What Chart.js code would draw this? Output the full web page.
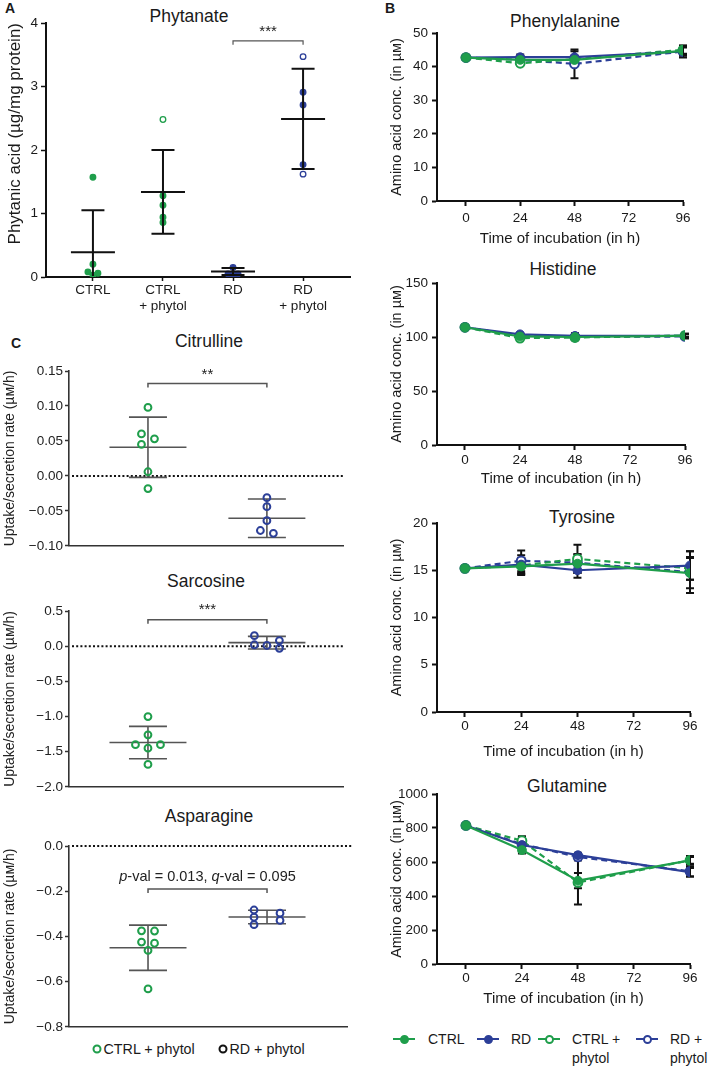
<!DOCTYPE html>
<html><head><meta charset="utf-8">
<script src="https://cdn.jsdelivr.net/npm/chart.js@4.4.1/dist/chart.umd.min.js"></script>
<style>
html,body{margin:0;padding:0;background:#fff;}
body{width:709px;height:1066px;position:relative;overflow:hidden;font-family:'Liberation Sans',Arial,Helvetica,sans-serif;color:#1a1a1a;}
.box{position:absolute;}
.box canvas{display:block;}
.ttl{position:absolute;transform:translate(-50%,-50%);font-size:17.5px;white-space:nowrap;line-height:1;}
.pl{position:absolute;font-weight:bold;font-size:14px;line-height:1;transform:translate(-50%,-50%);}
.lgi{position:absolute;}
.lgt{position:absolute;font-size:14px;line-height:19px;width:54px;}
.lgm{position:absolute;height:2.5px;width:22px;}
.lgc{position:absolute;width:5px;height:5px;border-radius:50%;border:2px solid;}
.cl{position:absolute;font-size:14.3px;line-height:1;white-space:nowrap;transform:translateY(-50%);}
.cc{position:absolute;width:5px;height:5px;border-radius:50%;border:2px solid;transform:translate(-50%,-50%);}
</style></head>
<body>
<div class="pl" style="left:10px;top:8px">A</div>
<div class="pl" style="left:390px;top:8px">B</div>
<div class="pl" style="left:16px;top:343px">C</div>

<div class="ttl" style="left:189px;top:17px">Phytanate</div>
<div class="ttl" style="left:565px;top:22px">Phenylalanine</div>
<div class="ttl" style="left:563px;top:270px">Histidine</div>
<div class="ttl" style="left:582px;top:518px">Tyrosine</div>
<div class="ttl" style="left:567px;top:787px">Glutamine</div>
<div class="ttl" style="left:209px;top:342px">Citrulline</div>
<div class="ttl" style="left:206px;top:582px">Sarcosine</div>
<div class="ttl" style="left:209px;top:817px">Asparagine</div>

<script>
// ---------------- DATA ----------------
// Panel A: phytanic acid (µg/mg protein)
const phyCats = [['CTRL'], ['CTRL', '+ phytol'], ['RD'], ['RD', '+ phytol']];
const phyTicks = [0, 1, 2, 3, 4];
const phyCtrl  = [1.57, 0.20, 0.08, 0.06, 0.03];
const phyCtrlP = [2.48, 1.28, 1.13, 0.94, 0.86];
const phyRd    = [0.15, 0.05, 0.05, 0.03];
const phyRdP   = [3.47, 2.91, 2.71, 1.77, 1.62];
const phyMean  = [0.39, 1.34, 0.085, 2.49];
const phySd    = [0.66, 0.66, 0.055, 0.79];
const phySig   = {from: 2, to: 3, y: 3.72, label: '***'};

// Panel B: amino acid concentrations over time
const hours = [0, 24, 48, 96];
const hourTicks = [0, 24, 48, 72, 96];
const seriesNames = ['CTRL', 'RD', 'CTRL + phytol', 'RD + phytol'];

const pheTicks = [0, 10, 20, 30, 40, 50];
const pheCtrl  = [42.7, 42.0, 42.0, 44.7];
const pheRd    = [42.7, 42.8, 42.8, 44.5];
const pheCtrlP = [42.7, 41.0, 42.2, 45.0];
const pheRdP   = [42.7, 42.0, 40.8, 44.5];
const pheCtrlSd  = [0, 1.0, 1.2, 1.0];
const pheRdSd    = [0, 0.8, 1.8, 1.8];
const pheCtrlPSd = [0, 0.6, 0.8, 1.2];
const pheRdPSd   = [0, 1.0, 4.3, 1.3];

const hisTicks = [0, 50, 100, 150];
const hisCtrl  = [109, 100.5, 100, 101];
const hisRd    = [109, 102.5, 101, 101];
const hisCtrlP = [109, 99, 99.5, 101.5];
const hisRdP   = [109, 101, 100, 100.5];
const hisCtrlSd  = [1, 1, 2, 1.5];
const hisRdSd    = [1, 1, 2.5, 2];
const hisCtrlPSd = [1, 1, 2, 1.5];
const hisRdPSd   = [1, 1, 3, 2];

const tyrTicks = [0, 5, 10, 15, 20];
const tyrCtrl  = [15.2, 15.4, 15.7, 14.7];
const tyrRd    = [15.2, 15.6, 15.0, 15.5];
const tyrCtrlP = [15.2, 15.5, 16.2, 15.2];
const tyrRdP   = [15.2, 16.0, 15.8, 14.8];
const tyrCtrlSd  = [0, 0.9, 1.0, 1.6];
const tyrRdSd    = [0, 1.0, 0.8, 1.5];
const tyrCtrlPSd = [0, 0.8, 1.5, 1.2];
const tyrRdPSd   = [0, 1.1, 0.9, 2.2];

const gluTicks = [0, 200, 400, 600, 800, 1000];
const gluCtrl  = [815, 670, 490, 610];
const gluRd    = [815, 700, 640, 540];
const gluCtrlP = [815, 725, 480, 610];
const gluRdP   = [815, 705, 630, 545];
const gluCtrlSd  = [15, 20, 45, 25];
const gluRdSd    = [15, 15, 15, 25];
const gluCtrlPSd = [15, 25, 130, 20];
const gluRdPSd   = [15, 45, 20, 30];

// Panel C: uptake / secretion rates (µM/h)
const citTicks  = [-0.10, -0.05, 0.00, 0.05, 0.10, 0.15];
const citLabels = ['\u22120.10', '\u22120.05', '0.00', '0.05', '0.10', '0.15'];
const citCtrlP  = [0.098, 0.060, 0.053, 0.045, 0.006, -0.018];
const citRdP    = [-0.031, -0.044, -0.064, -0.078, -0.082];
const citMean   = [0.041, -0.0605];
const citSd     = [0.043, 0.0275];
const citSig    = {from: 1, to: 2, y: 0.132, label: '**'};

const sarTicks  = [-2.0, -1.5, -1.0, -0.5, 0.0, 0.5];
const sarLabels = ['\u22122.0', '\u22121.5', '\u22121.0', '\u22120.5', '0.0', '0.5'];
const sarCtrlP  = [-1.00, -1.26, -1.40, -1.40, -1.45, -1.68];
const sarRdP    = [0.15, 0.08, 0.02, 0.01, -0.03];
const sarMean   = [-1.37, 0.05];
const sarSd     = [0.23, 0.09];
const sarSig    = {from: 1, to: 2, y: 0.376, label: '***'};

const aspTicks  = [-0.8, -0.6, -0.4, -0.2, 0.0];
const aspLabels = ['\u22120.8', '\u22120.6', '\u22120.4', '\u22120.2', '0.0'];
const aspCtrlP  = [-0.375, -0.376, -0.425, -0.430, -0.462, -0.632];
const aspRdP    = [-0.283, -0.297, -0.315, -0.329, -0.348];
const aspMean   = [-0.45, -0.314];
const aspSd     = [0.10, 0.030];
const aspSig    = {from: 1, to: 2, y: -0.19, rich: [['p', true], ['-val = 0.013, ', false], ['q', true], ['-val = 0.095', false]]};

const cLegend = ['CTRL + phytol', 'RD + phytol'];

// ---------------- STYLE / HELPERS ----------------
const FONT = "'Liberation Sans', Arial, Helvetica, sans-serif";
const NARROW = "'Liberation Sans Narrow', 'Liberation Sans', Arial, sans-serif";
const GREEN = '#1f9e4b';
const BLUE = '#2c3f98';
Chart.defaults.font.family = FONT;
Chart.defaults.color = '#1a1a1a';

function makeBox(l, t, w, h) {
  const d = document.createElement('div');
  d.className = 'box';
  Object.assign(d.style, {left: l + 'px', top: t + 'px', width: w + 'px', height: h + 'px'});
  const c = document.createElement('canvas');
  c.width = w; c.height = h;
  c.style.width = w + 'px'; c.style.height = h + 'px';
  d.appendChild(c);
  document.body.appendChild(d);
  return c;
}

function decoPlugin(o) {
  return {
    id: 'deco',
    afterDatasetsUpdate(chart) {
      chart.data.datasets.forEach((ds, di) => {
        if (!ds.swarm) return;
        const {step, gap} = ds.swarm;
        const els = chart.getDatasetMeta(di).data.slice().sort((a, b) => a.y - b.y);
        const chains = [];
        let cur = [];
        els.forEach((el, i) => {
          if (i > 0 && el.y - els[i - 1].y >= gap) { chains.push(cur); cur = []; }
          cur.push(el);
        });
        if (cur.length) chains.push(cur);
        const placed = [];
        chains.forEach(ch => {
          const cands = ch.length === 1 ? [0] : [-1, 1, 0, -2, 2, -3, 3];
          ch.forEach(el => {
            const cx = el.x;
            for (const k of cands) {
              const nx = cx + k * step;
              if (placed.every(p => Math.hypot(p.x - nx, p.y - el.y) >= gap - 0.05)) { el.x = nx; break; }
            }
            placed.push({x: el.x, y: el.y});
          });
        });
      });
    },
    beforeDatasetsDraw(chart) {
      const {ctx, chartArea: ca} = chart;
      const ys = chart.scales.y, xs = chart.scales.x;
      if (o.zero) {
        const y = ys.getPixelForValue(0);
        ctx.save();
        ctx.strokeStyle = o.zero.color; ctx.lineWidth = o.zero.width; ctx.setLineDash(o.zero.dash);
        ctx.beginPath(); ctx.moveTo(ca.left + 3, y); ctx.lineTo(ca.right + (o.zero.extra || 0), y); ctx.stroke();
        ctx.restore();
      }
      if (o.err) {
        ctx.save();
        ctx.strokeStyle = o.err.color; ctx.lineWidth = o.err.width;
        chart.data.datasets.forEach(ds => {
          if (!ds.sd) return;
          ds.data.forEach((d, i) => {
            const s = ds.sd[i];
            if (!s) return;
            const x = xs.getPixelForValue(d.x);
            const y1 = ys.getPixelForValue(d.y - s), y2 = ys.getPixelForValue(d.y + s);
            ctx.beginPath();
            ctx.moveTo(x, y1); ctx.lineTo(x, y2);
            ctx.moveTo(x - o.err.cap, y1); ctx.lineTo(x + o.err.cap, y1);
            ctx.moveTo(x - o.err.cap, y2); ctx.lineTo(x + o.err.cap, y2);
            ctx.stroke();
          });
        });
        ctx.restore();
      }
      if (o.summary && !o.summary.onTop) drawSummary(chart, o.summary);
    },
    afterDatasetsDraw(chart) {
      if (o.summary && o.summary.onTop) drawSummary(chart, o.summary);
      if (o.sig) drawSig(chart, o.sig);
    }
  };
}

function drawSummary(chart, s) {
  const {ctx, chartArea: ca} = chart;
  const xs = chart.scales.x, ys = chart.scales.y;
  ctx.save();
  ctx.beginPath(); ctx.rect(ca.left - 60, ca.top - 2, ca.right - ca.left + 120, ca.bottom - ca.top + 1); ctx.clip();
  ctx.strokeStyle = s.color; ctx.lineWidth = s.width;
  s.x.forEach((gx, i) => {
    const x = xs.getPixelForValue(gx);
    const ym = ys.getPixelForValue(s.mean[i]);
    const yt = ys.getPixelForValue(s.mean[i] + s.sd[i]);
    const yb = ys.getPixelForValue(s.mean[i] - s.sd[i]);
    ctx.beginPath();
    ctx.moveTo(x - s.meanHalf, ym); ctx.lineTo(x + s.meanHalf, ym);
    ctx.moveTo(x, yt); ctx.lineTo(x, yb);
    ctx.moveTo(x - s.capHalf, yt); ctx.lineTo(x + s.capHalf, yt);
    ctx.moveTo(x - s.capHalf, yb); ctx.lineTo(x + s.capHalf, yb);
    ctx.stroke();
  });
  ctx.restore();
}

function drawSig(chart, g) {
  const ctx = chart.ctx;
  const xs = chart.scales.x, ys = chart.scales.y;
  const x1 = xs.getPixelForValue(g.from), x2 = xs.getPixelForValue(g.to), y = ys.getPixelForValue(g.y);
  ctx.save();
  ctx.strokeStyle = g.color; ctx.lineWidth = g.width;
  ctx.beginPath();
  ctx.moveTo(x1, y + g.tick); ctx.lineTo(x1, y); ctx.lineTo(x2, y); ctx.lineTo(x2, y + g.tick);
  ctx.stroke();
  ctx.fillStyle = g.textColor; ctx.textBaseline = 'middle';
  const cx = (x1 + x2) / 2, ty = y - g.gap;
  if (g.rich) {
    const fonts = g.rich.map(r => (r[1] ? 'italic ' : '') + g.size + 'px ' + FONT);
    let total = 0;
    const ws = g.rich.map((r, i) => { ctx.font = fonts[i]; const w = ctx.measureText(r[0]).width; total += w; return w; });
    let x = cx - total / 2;
    ctx.textAlign = 'left';
    g.rich.forEach((r, i) => { ctx.font = fonts[i]; ctx.fillText(r[0], x, ty); x += ws[i]; });
  } else {
    ctx.font = g.size + 'px ' + FONT; ctx.textAlign = 'center';
    ctx.fillText(g.label, cx, ty);
  }
  ctx.restore();
}

const base = {animation: false, responsive: false, devicePixelRatio: 1, events: []};
const noPlug = {legend: {display: false}, tooltip: {enabled: false}, title: {display: false}};

// ---------------- PANEL A ----------------
(function () {
  const c = makeBox(0, 0, 360, 320);
  const ptStyle = (vals, gx, color, openIdx) => ({
    data: vals.map(v => ({x: gx, y: v})),
    pointRadius: 2.8, pointBorderWidth: 1.3,
    pointBorderColor: color,
    pointBackgroundColor: vals.map((v, i) => openIdx.includes(i) ? '#ffffff' : color),
    swarm: {step: 5, gap: 5}
  });
  new Chart(c, {
    type: 'scatter',
    data: {datasets: [
      ptStyle(phyCtrl, 0, GREEN, []),
      ptStyle(phyCtrlP, 1, GREEN, [0]),
      ptStyle(phyRd, 2, BLUE, []),
      ptStyle(phyRdP, 3, BLUE, [0, 4])
    ]},
    options: Object.assign({}, base, {
      layout: {padding: {top: 23, left: 0, right: 10, bottom: 0}, autoPadding: false},
      plugins: noPlug,
      scales: {
        x: {
          type: 'linear', min: -0.67, max: 3.67,
          afterBuildTicks: s => { s.ticks = phyCats.map((_, i) => ({value: i})); },
          afterFit: s => { s.height = 43; },
          ticks: {callback: (v, i) => phyCats[i], font: {size: 13.5}, color: '#1a1a1a', padding: 1, maxRotation: 0, autoSkip: false},
          grid: {display: true, drawOnChartArea: false, drawTicks: true, tickLength: 4, tickWidth: 1.5, tickColor: '#111'},
          border: {display: true, color: '#111', width: 2}
        },
        y: {
          min: 0, max: 4,
          afterBuildTicks: s => { s.ticks = phyTicks.map(v => ({value: v})); },
          afterFit: s => { s.width = 46; },
          ticks: {callback: v => String(v), font: {size: 13.5}, color: '#1a1a1a', padding: 3},
          grid: {display: true, drawOnChartArea: false, drawTicks: true, tickLength: 5, tickWidth: 1.5, tickColor: '#111'},
          border: {display: true, color: '#111', width: 2},
          title: {display: true, text: 'Phytanic acid (\u00b5g/mg protein)', align: 'end', font: {size: 17}, color: '#1a1a1a', padding: {top: 4.8, bottom: 0}}
        }
      }
    }),
    plugins: [decoPlugin({
      summary: {x: [0, 1, 2, 3], mean: phyMean, sd: phySd, meanHalf: 22, capHalf: 11.5, color: '#111', width: 2, onTop: true},
      sig: Object.assign({}, phySig, {color: '#555', width: 1.2, tick: 4, size: 15, gap: 9, textColor: '#1a1a1a'})
    })]
  });
})();

// ---------------- PANEL B ----------------
function bChart(cfg) {
  const c = makeBox(360, cfg.top, 349, cfg.h);
  const mkDs = (arr, sd, color, dashed, open) => ({
    data: hours.map((h, i) => ({x: h, y: arr[i]})), sd: sd,
    borderColor: color, backgroundColor: color, borderWidth: 2.2,
    borderDash: dashed ? [6, 4] : [],
    pointRadius: 4.4, pointBorderWidth: open ? 2 : 1,
    pointBackgroundColor: open ? '#ffffff' : color, pointBorderColor: color,
    tension: 0, fill: false
  });
  return new Chart(c, {
    type: 'line',
    data: {datasets: [
      mkDs(cfg.ctrl, cfg.ctrlSd, GREEN, false, false),
      mkDs(cfg.rd, cfg.rdSd, BLUE, false, false),
      mkDs(cfg.ctrlP, cfg.ctrlPSd, GREEN, true, true),
      mkDs(cfg.rdP, cfg.rdPSd, BLUE, true, true)
    ]},
    options: Object.assign({}, base, {
      layout: {padding: {top: cfg.padTop, left: 0, right: 709 - cfg.R, bottom: 0}, autoPadding: false},
      plugins: noPlug,
      scales: {
        x: {
          type: 'linear', min: cfg.xmin, max: 96,
          afterBuildTicks: s => { s.ticks = hourTicks.map(v => ({value: v})); },
          afterFit: s => { s.height = cfg.xh; },
          ticks: {callback: v => String(v), font: {size: 13.5}, color: '#1a1a1a', padding: cfg.tickPad, maxRotation: 0, autoSkip: false},
          grid: {display: true, drawOnChartArea: false, drawTicks: true, tickLength: 5, tickWidth: 2, tickColor: '#111'},
          border: {display: true, color: '#111', width: 2},
          title: {display: true, text: 'Time of incubation (in h)', font: {size: 15}, color: '#1a1a1a', padding: {top: 0, bottom: cfg.titlePb}}
        },
        y: {
          min: 0, max: cfg.ticks[cfg.ticks.length - 1],
          afterBuildTicks: s => { s.ticks = cfg.ticks.map(v => ({value: v})); },
          afterFit: s => { s.width = 77; },
          ticks: {callback: v => String(v), font: {size: 13.5}, color: '#1a1a1a', padding: 4},
          grid: {display: true, drawOnChartArea: false, drawTicks: true, tickLength: 5, tickWidth: 2, tickColor: '#111'},
          border: {display: true, color: '#111', width: 2},
          title: {display: true, text: 'Amino acid conc. (in \u00b5\u043c)', font: {size: 14.5}, color: '#1a1a1a', padding: {top: 28.3, bottom: 0}}
        }
      }
    }),
    plugins: [decoPlugin({err: {color: '#111', width: 2, cap: 4}})]
  });
}

bChart({top: 0, h: 255, padTop: 33, xh: 54, R: 683, xmin: -12.8, tickPad: 3.9, titlePb: 7, ticks: pheTicks,
  ctrl: pheCtrl, rd: pheRd, ctrlP: pheCtrlP, rdP: pheRdP, ctrlSd: pheCtrlSd, rdSd: pheRdSd, ctrlPSd: pheCtrlPSd, rdPSd: pheRdPSd});
bChart({top: 255, h: 245, padTop: 28, xh: 55, R: 685, xmin: -12.2, tickPad: 1.9, titlePb: 12, ticks: hisTicks,
  ctrl: hisCtrl, rd: hisRd, ctrlP: hisCtrlP, rdP: hisRdP, ctrlSd: hisCtrlSd, rdSd: hisRdSd, ctrlPSd: hisCtrlPSd, rdPSd: hisRdPSd});
bChart({top: 500, h: 270, padTop: 23, xh: 58, R: 690, xmin: -11.9, tickPad: 1, titlePb: 9, ticks: tyrTicks,
  ctrl: tyrCtrl, rd: tyrRd, ctrlP: tyrCtrlP, rdP: tyrRdP, ctrlSd: tyrCtrlSd, rdSd: tyrRdSd, ctrlPSd: tyrCtrlPSd, rdPSd: tyrRdPSd});
bChart({top: 770, h: 250, padTop: 24, xh: 56, R: 690, xmin: -12.4, tickPad: 0.9, titlePb: 12, ticks: gluTicks,
  ctrl: gluCtrl, rd: gluRd, ctrlP: gluCtrlP, rdP: gluRdP, ctrlSd: gluCtrlSd, rdSd: gluRdSd, ctrlPSd: gluCtrlPSd, rdPSd: gluRdPSd});

// B legend
(function () {
  const pos = [{m: 393, t: 428}, {m: 477, t: 511}, {m: 538, t: 572}, {m: 636, t: 670}];
  const cols = [GREEN, BLUE, GREEN, BLUE];
  const open = [false, false, true, true];
  seriesNames.forEach((name, i) => {
    const ln = document.createElement('div');
    ln.className = 'lgm';
    Object.assign(ln.style, {left: pos[i].m + 'px', top: (1039 - 1.25) + 'px', background: cols[i]});
    document.body.appendChild(ln);
    const dot = document.createElement('div');
    dot.className = 'lgc';
    Object.assign(dot.style, {left: (pos[i].m + 11 - 4.5) + 'px', top: (1039 - 4.5) + 'px', borderColor: cols[i], background: open[i] ? '#fff' : cols[i]});
    document.body.appendChild(dot);
    const t = document.createElement('div');
    t.className = 'lgt';
    t.textContent = name;
    Object.assign(t.style, {left: pos[i].t + 'px', top: (1039 - 9.5) + 'px'});
    document.body.appendChild(t);
  });
})();

// ---------------- PANEL C ----------------
function cChart(cfg) {
  const c = makeBox(0, cfg.top, 360, cfg.h);
  const ds = (vals, gx, color, step) => ({
    data: vals.map(v => ({x: gx, y: v})),
    pointRadius: 3.4, pointBorderWidth: 2, pointBorderColor: color,
    pointBackgroundColor: 'rgba(255,255,255,0)', swarm: {step: step, gap: 6.5}
  });
  new Chart(c, {
    type: 'scatter',
    data: {datasets: [ds(cfg.ctrlP, 1, GREEN, cfg.stepC), ds(cfg.rdP, 2, BLUE, cfg.stepR)]},
    options: Object.assign({}, base, {
      layout: {padding: {top: cfg.padTop, left: 0, right: 360 - cfg.R, bottom: 0}, autoPadding: false},
      plugins: noPlug,
      scales: {
        x: {
          type: 'linear', min: 0.336, max: cfg.xmax,
          afterFit: s => { s.height = 5; },
          ticks: {display: false},
          grid: {display: true, drawOnChartArea: false, drawTicks: false},
          border: {display: true, color: '#333', width: 1.6}
        },
        y: {
          min: cfg.ticks[0], max: cfg.ticks[cfg.ticks.length - 1],
          afterBuildTicks: s => { s.ticks = cfg.ticks.map(v => ({value: v})); },
          afterFit: s => { s.width = 69; },
          ticks: {callback: (v, i) => cfg.labels[i], font: {family: NARROW, size: 13.5}, color: '#222', padding: 2},
          grid: {display: true, drawOnChartArea: false, drawTicks: true, tickLength: 4, tickWidth: 1.5, tickColor: '#333'},
          border: {display: true, color: '#333', width: 1.6},
          title: {display: true, text: 'Uptake/secretion rate (\u00b5\u043c/h)', font: {size: 14}, color: '#222', padding: {top: 2, bottom: 0}}
        }
      }
    }),
    plugins: [decoPlugin({
      zero: {color: '#111', width: 2, dash: [2, 2.2], extra: cfg.zeroExtra || 0},
      summary: {x: [1, 2], mean: cfg.mean, sd: cfg.sd, meanHalf: 38.5, capHalf: 19, color: '#555', width: 1.6, onTop: false},
      sig: Object.assign({}, cfg.sig, {color: '#555', width: 1.5, tick: 4, size: cfg.sigSize, gap: cfg.sigGap, textColor: '#222'})
    })]
  });
}

cChart({top: 350, h: 206, padTop: 21, R: 343, xmax: 2.64, ticks: citTicks, labels: citLabels,
  ctrlP: citCtrlP, rdP: citRdP, mean: citMean, sd: citSd, sig: citSig, stepC: 6.5, stepR: 6.5, sigSize: 15, sigGap: 9});
cChart({top: 590, h: 207, padTop: 21, R: 343, xmax: 2.64, ticks: sarTicks, labels: sarLabels,
  ctrlP: sarCtrlP, rdP: sarRdP, mean: sarMean, sd: sarSd, sig: sarSig, stepC: 12.5, stepR: 12.5, sigSize: 15, sigGap: 10});
cChart({top: 825, h: 212, padTop: 21, R: 347, xmax: 2.672, ticks: aspTicks, labels: aspLabels,
  ctrlP: aspCtrlP, rdP: aspRdP, mean: aspMean, sd: aspSd, sig: aspSig, stepC: 6.5, stepR: 13, sigSize: 14.5, sigGap: 12, zeroExtra: 6});

// C legend
(function () {
  const cols = [GREEN, '#111'];
  const cx = [97, 223];
  cLegend.forEach((name, i) => {
    const c = document.createElement('div');
    c.className = 'cc';
    Object.assign(c.style, {left: cx[i] + 'px', top: '1049px', borderColor: cols[i]});
    document.body.appendChild(c);
    const t = document.createElement('div');
    t.className = 'cl';
    t.textContent = name;
    Object.assign(t.style, {left: (cx[i] + 6.5) + 'px', top: '1049px'});
    document.body.appendChild(t);
  });
})();
</script>
</body></html>
